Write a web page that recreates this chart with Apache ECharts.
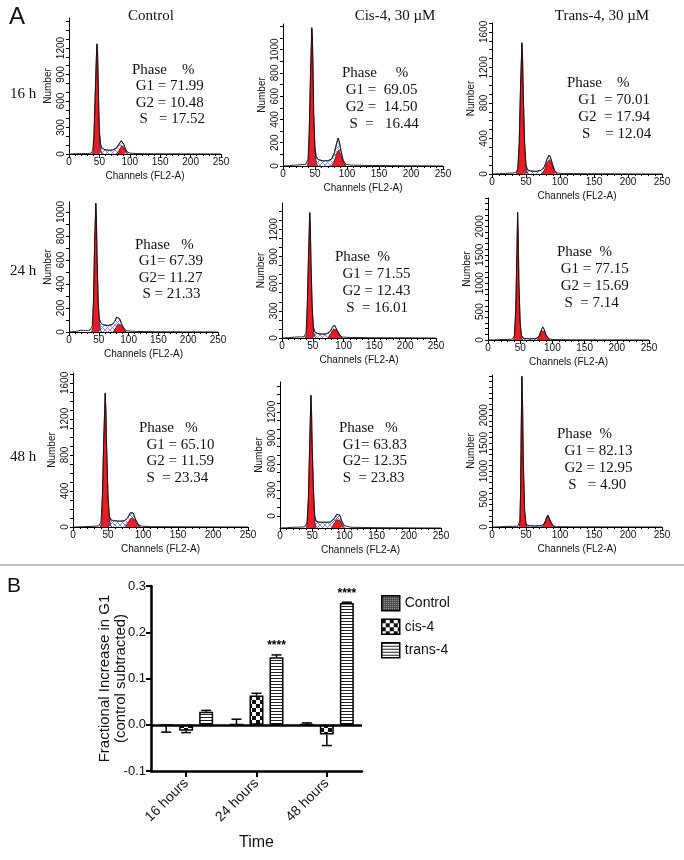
<!DOCTYPE html>
<html><head><meta charset="utf-8">
<script src="https://cdn.jsdelivr.net/npm/echarts@6.0.0/dist/echarts.min.js"></script>
<style>html,body{margin:0;padding:0;background:#fff}#c{width:684px;height:860px}</style>
</head><body><div id="c"></div>
<script>
// ================= PANEL A DATA (channel, count) =================
const channelTicks = [0, 50, 100, 150, 200, 250];
// Control 16 h
const c16Total = [[0,0],[10,2],[20,4],[30,5],[36,8],[39,40],[41,200],[43,650],[45,1100],[46,1250],[47,1150],[48,850],[49,500],[50,250],[52,110],[54,70],[58,50],[65,42],[72,46],[78,70],[82,110],[86,150],[88,150],[90,110],[93,55],[96,25],[100,10],[110,5],[130,3],[160,2],[250,0]];
const c16G1 = [[38,0],[40,30],[41,190],[43,640],[45,1090],[46,1240],[47,1140],[48,840],[49,490],[50,240],[51,100],[53,20],[55,0]];
const c16G2 = [[78,0],[81,20],[84,60],[87,95],[89,90],[92,50],[95,15],[98,0]];
const c16S = [[49,0],[50,250],[52,110],[54,70],[58,50],[65,42],[72,46],[78,70],[82,110],[86,150],[88,150],[90,110],[93,55],[96,0]];
// Cis-4 16 h
const cis16Total = [[0,0],[10,3],[20,8],[30,12],[36,15],[39,60],[41,300],[43,800],[45,1190],[46,1100],[47,800],[48,450],[50,150],[52,80],[55,55],[62,45],[70,45],[76,60],[80,110],[84,200],[86,240],[88,210],[91,120],[94,50],[98,15],[105,8],[130,5],[170,3],[250,0]];
const cis16G1 = [[38,0],[40,50],[41,290],[43,790],[45,1180],[46,1090],[47,790],[48,440],[50,130],[52,30],[54,0]];
const cis16G2 = [[76,0],[80,35],[84,110],[87,138],[90,100],[94,35],[98,0]];
const cis16S = [[48,0],[50,150],[52,80],[55,55],[62,45],[70,45],[76,60],[80,110],[84,200],[86,240],[88,210],[91,120],[94,50],[98,0]];
// Trans-4 16 h
const trans16Total = [[0,0],[10,3],[20,8],[30,10],[35,15],[38,60],[40,350],[42,1000],[44,1480],[45,1300],[46,900],[48,350],[50,100],[52,50],[56,35],[65,30],[72,40],[77,80],[81,170],[84,214],[86,190],[89,110],[92,40],[96,12],[105,5],[140,3],[250,0]];
const trans16G1 = [[36,0],[38,50],[40,340],[42,990],[44,1470],[45,1290],[46,890],[48,340],[50,80],[52,15],[53,0]];
const trans16G2 = [[73,0],[77,40],[81,130],[84,158],[87,130],[90,60],[94,10],[96,0]];
const trans16S = [[48,0],[50,100],[52,50],[56,35],[65,30],[72,40],[77,80],[81,170],[84,214],[86,190],[89,110],[92,40],[96,0]];
// Control 24 h
const c24Total = [[0,0],[12,5],[15,18],[20,15],[28,12],[35,15],[39,50],[41,250],[43,750],[45,1075],[46,950],[47,650],[49,250],[51,110],[53,80],[57,60],[65,55],[72,60],[77,90],[80,125],[82,133],[85,110],[88,70],[92,30],[97,10],[110,5],[150,2],[250,0]];
const c24G1 = [[38,0],[40,40],[41,240],[43,740],[45,1065],[46,940],[47,640],[49,240],[51,80],[53,15],[55,0]];
const c24G2 = [[74,0],[78,30],[82,65],[85,75],[88,55],[92,20],[96,0]];
const c24S = [[49,0],[51,110],[53,80],[57,60],[65,55],[72,60],[77,90],[80,125],[82,133],[85,110],[88,70],[92,30],[96,0]];
// Cis-4 24 h
const cis24Total = [[0,0],[10,3],[20,10],[30,12],[36,14],[39,60],[41,350],[43,900],[45,1387],[46,1250],[47,850],[49,350],[51,120],[53,70],[57,50],[65,44],[72,45],[78,70],[82,120],[85,143],[87,130],[90,80],[94,30],[98,10],[110,6],[150,3],[250,0]];
const cis24G1 = [[38,0],[40,50],[41,340],[43,890],[45,1377],[46,1240],[47,840],[49,340],[51,90],[53,15],[55,0]];
const cis24G2 = [[75,0],[79,40],[83,95],[86,110],[89,85],[93,35],[97,0]];
const cis24S = [[49,0],[51,120],[53,70],[57,50],[65,44],[72,45],[78,70],[82,120],[85,143],[87,130],[90,80],[94,30],[98,0]];
// Trans-4 24 h
const trans24Total = [[0,0],[10,3],[20,8],[30,10],[38,15],[41,80],[43,500],[45,1600],[46,2248],[47,1800],[48,1000],[50,300],[52,80],[55,30],[65,20],[74,25],[79,60],[83,180],[85,230],[87,190],[90,90],[94,25],[100,8],[130,3],[250,0]];
const trans24G1 = [[40,0],[41,70],[43,490],[45,1590],[46,2238],[47,1790],[48,990],[50,280],[52,50],[54,0]];
const trans24G2 = [[76,0],[80,60],[83,160],[85,195],[88,150],[91,60],[95,0]];
const trans24S = [[50,0],[52,80],[55,30],[65,20],[74,25],[79,60],[83,180],[85,230],[87,190],[90,90],[94,25],[96,0]];
// Control 48 h
const c48Total = [[0,0],[10,2],[20,5],[30,8],[37,12],[40,60],[42,350],[44,1000],[46,1489],[47,1300],[48,900],[50,350],[52,120],[54,80],[58,70],[66,65],[73,68],[78,100],[82,160],[84,178],[86,155],[89,90],[93,30],[98,10],[110,4],[160,2],[250,0]];
const c48G1 = [[39,0],[41,50],[42,340],[44,990],[46,1479],[47,1290],[48,890],[50,330],[52,80],[54,15],[56,0]];
const c48G2 = [[75,0],[79,50],[83,100],[85,111],[88,80],[92,25],[96,0]];
const c48S = [[50,0],[52,120],[54,80],[58,70],[66,65],[73,68],[78,100],[82,160],[84,178],[86,155],[89,90],[93,30],[97,0]];
// Cis-4 48 h (read against the printed labels, whose 0 sits above the baseline)
const cis48Total = [[0,-138],[10,-135],[20,-130],[30,-128],[38,-125],[42,-80],[44,200],[46,800],[48,1395],[49,1200],[50,800],[52,300],[54,0],[56,-60],[60,-70],[70,-72],[78,-70],[84,-30],[88,20],[91,35],[93,10],[96,-60],[100,-110],[110,-130],[150,-134],[250,-138]];
const cis48G1 = [[41,-138],[42,-90],[44,190],[46,790],[48,1385],[49,1190],[50,790],[52,280],[54,-60],[56,-138]];
const cis48G2 = [[80,-138],[84,-90],[88,-40],[91,-23],[94,-60],[98,-120],[100,-138]];
const cis48S = [[52,-138],[54,0],[56,-60],[60,-70],[70,-72],[78,-70],[84,-30],[88,20],[91,35],[93,10],[96,-60],[100,-138]];
// Trans-4 48 h
const trans48Total = [[0,0],[10,3],[20,10],[30,12],[38,15],[41,100],[42,600],[43,1800],[44,2700],[45,2200],[46,1200],[48,300],[50,60],[53,25],[62,18],[72,22],[77,60],[80,160],[82,214],[84,180],[87,80],[90,20],[95,6],[120,3],[250,0]];
const trans48G1 = [[40,0],[41,90],[42,590],[43,1790],[44,2690],[45,2190],[46,1190],[48,290],[50,40],[52,0]];
const trans48G2 = [[74,0],[77,50],[80,150],[82,200],[84,170],[87,70],[90,10],[92,0]];
const trans48S = [[49,0],[50,60],[53,25],[62,18],[72,22],[77,60],[80,160],[82,214],[84,180],[87,80],[90,20],[92,0]];

// y-axis tick labels per panel
const c16YTicks = [0,300,600,900,1200];
const cis16YTicks = [0,200,400,600,800,1000];
const trans16YTicks = [0,400,800,1200,1600];
const c24YTicks = [0,200,400,600,800,1000];
const cis24YTicks = [0,300,600,900,1200];
const trans24YTicks = [0,500,1000,1500,2000];
const c48YTicks = [0,400,800,1200,1600];
const cis48YTicks = [0,300,600,900,1200];
const trans48YTicks = [0,500,1000,1500,2000];
// y-axis ranges
const yMins = [0,0,0, 0,0,0, 0,-138,0];
const yMaxs = [1540,1220,1700, 1083,1490,2500, 1710,1545,2720];

const columnTitles = ['Control', 'Cis-4, 30 \u00b5M', 'Trans-4, 30 \u00b5M'];
const rowLabels = ['16 h', '24 h', '48 h'];
const phaseTexts = [
  ['Phase    %', ' G1 = 71.99', ' G2 = 10.48', '  S   = 17.52'],
  ['Phase     %', ' G1 =  69.05', ' G2 =  14.50', '  S  =   16.44'],
  ['Phase    %', '   G1  = 70.01', '   G2  = 17.94', '    S    = 12.04'],
  ['Phase   %', ' G1= 67.39', ' G2= 11.27', '  S = 21.33'],
  ['Phase  %', '  G1 = 71.55', '  G2 = 12.43', '   S  = 16.01'],
  ['Phase  %', ' G1 = 77.15', ' G2 = 15.69', '  S  = 7.14'],
  ['Phase   %', '  G1 = 65.10', '  G2 = 11.59', '  S  = 23.34'],
  ['Phase   %', ' G1= 63.83', ' G2= 12.35', ' S  = 23.83'],
  ['Phase  %', '  G1 = 82.13', '  G2 = 12.95', '   S   = 4.90']
];

// ================= PANEL B DATA =================
const timeCats = ['16 hours', '24 hours', '48 hours'];
const seriesNames = ['Control', 'cis-4', 'trans-4'];
const controlMean = [-0.001, 0.001, 0.001];
const controlErr = [0.015, 0.011, 0.003];
const cisMean = [-0.013, 0.063, -0.021];
const cisErr = [0.004, 0.005, 0.024];
const transMean = [0.028, 0.146, 0.263];
const transErr = [0.003, 0.005, 0.002];
const sigMarks = ['', '****', '****'];

// ================= BUILD =================
const panelData = [
  [c16Total,c16G1,c16G2,c16S,c16YTicks],
  [cis16Total,cis16G1,cis16G2,cis16S,cis16YTicks],
  [trans16Total,trans16G1,trans16G2,trans16S,trans16YTicks],
  [c24Total,c24G1,c24G2,c24S,c24YTicks],
  [cis24Total,cis24G1,cis24G2,cis24S,cis24YTicks],
  [trans24Total,trans24G1,trans24G2,trans24S,trans24YTicks],
  [c48Total,c48G1,c48G2,c48S,c48YTicks],
  [cis48Total,cis48G1,cis48G2,cis48S,cis48YTicks],
  [trans48Total,trans48G1,trans48G2,trans48S,trans48YTicks]
];
const boxes = [
  {left:69, top:18, width:152, height:136},
  {left:283, top:24, width:160, height:142},
  {left:492, top:23, width:170, height:151},
  {left:69, top:202, width:149, height:130},
  {left:282, top:203, width:154, height:135},
  {left:488, top:198, width:161, height:142},
  {left:73, top:373, width:175, height:154},
  {left:280, top:382, width:161, height:146},
  {left:492, top:375, width:170, height:152}
];
const phasePos = [
  [132,70,16.5],[342,73,17],[567,83,17],
  [135,245,16.5],[335,257,17],[557,252,17],
  [139,428,16.7],[339,428,16.7],[557,434,17]
];

function makePattern(w, h, draw) {
  const c = document.createElement('canvas');
  c.width = w; c.height = h;
  const ctx = c.getContext('2d');
  draw(ctx);
  return {image: c, repeat: 'repeat'};
}
const hatch = makePattern(5, 5, ctx => {
  ctx.fillStyle = '#fff'; ctx.fillRect(0,0,5,5);
  ctx.strokeStyle = '#6a80c8'; ctx.lineWidth = 0.8;
  ctx.beginPath(); ctx.moveTo(0,5); ctx.lineTo(5,0); ctx.stroke();
  ctx.beginPath(); ctx.moveTo(0,0); ctx.lineTo(5,5); ctx.stroke();
});
const patControl = makePattern(2, 2, ctx => {
  ctx.fillStyle = '#3a3a3a'; ctx.fillRect(0,0,2,2);
  ctx.fillStyle = '#d0d0d0'; ctx.fillRect(0,0,1,1);
});
const patCis = makePattern(8, 8, ctx => {
  ctx.fillStyle = '#fff'; ctx.fillRect(0,0,8,8);
  ctx.fillStyle = '#111'; ctx.fillRect(0,0,4,4); ctx.fillRect(4,4,4,4);
});
const patTrans = makePattern(4, 3, ctx => {
  ctx.fillStyle = '#fff'; ctx.fillRect(0,0,4,3);
  ctx.fillStyle = '#222'; ctx.fillRect(0,0,4,1);
});

const SERIF = '"Liberation Serif", "Times New Roman", serif';
const SANS = '"Liberation Sans", Arial, sans-serif';
const NARROW = '"Liberation Sans Narrow", "Arial Narrow", "Liberation Sans", sans-serif';
const RED = '#ec1c24';

const grids = [], xAxes = [], yAxes = [], series = [], graphics = [];

panelData.forEach((pd, i) => {
  const [total, g1, g2, s, yt] = pd;
  grids.push(Object.assign({outerBoundsMode: 'none', containLabel: false}, boxes[i]));
  xAxes.push({
    type: 'value', gridIndex: i, min: 0, max: 250, interval: 50,
    name: 'Channels (FL2-A)', nameLocation: 'middle', nameGap: 17,
    nameTextStyle: {fontFamily: SANS, fontSize: 10, color: '#111'},
    axisLine: {show: true, onZero: false, lineStyle: {color: '#000', width: 1}},
    axisTick: {show: true, length: 4, lineStyle: {color: '#000'}},
    minorTick: {show: true, splitNumber: 5, length: 2, lineStyle: {color: '#000'}},
    axisLabel: {fontFamily: SANS, fontSize: 10, color: '#111', margin: 3,
      customValues: channelTicks, formatter: v => String(v)},
    splitLine: {show: false}
  });
  const minors = [];
  for (let v = 0; v <= yMaxs[i]; v += 100) minors.push(v);
  yAxes.push({
    type: 'value', gridIndex: i, min: yMins[i], max: yMaxs[i], position: 'left',
    name: 'Number', nameLocation: 'middle', nameRotate: 90, nameGap: 16,
    nameTextStyle: {fontFamily: SANS, fontSize: 10, color: '#111'},
    axisLine: {show: true, onZero: false, lineStyle: {color: '#000', width: 1}},
    axisTick: {show: true, length: 3, customValues: minors, lineStyle: {color: '#000'}},
    axisLabel: {fontFamily: SANS, fontSize: 10, color: '#111', rotate: 90, margin: 3,
      customValues: yt, formatter: v => String(v)},
    splitLine: {show: false}
  });
  const base = {type: 'line', xAxisIndex: i, yAxisIndex: i, symbol: 'none', showSymbol: false, silent: true};
  series.push(Object.assign({}, base, {data: s,
    lineStyle: {color: '#3050b0', width: 0.8},
    areaStyle: {color: hatch, origin: 'start', opacity: 1}}));
  series.push(Object.assign({}, base, {data: g1,
    lineStyle: {color: '#6a0808', width: 0.8},
    areaStyle: {color: RED, origin: 'start', opacity: 1}}));
  series.push(Object.assign({}, base, {data: g2,
    lineStyle: {color: '#6a0808', width: 0.8},
    areaStyle: {color: RED, origin: 'start', opacity: 1}}));
  series.push(Object.assign({}, base, {data: total,
    lineStyle: {color: '#111', width: 0.9}}));

  const [px, py, lh] = phasePos[i];
  graphics.push({type: 'text', x: px, y: py - lh / 2,
    style: {text: phaseTexts[i].join('\n'), font: '15px ' + SERIF, fill: '#111',
      lineHeight: lh, textAlign: 'left', textVerticalAlign: 'top'}});
});

// column titles, row labels, panel letters, separator
const titleX = [151, 395, 602];
columnTitles.forEach((t, k) => graphics.push({type: 'text', x: titleX[k], y: 16,
  style: {text: t, font: '15px ' + SERIF, fill: '#111', textAlign: 'center', textVerticalAlign: 'middle'}}));
const rowY = [94, 271, 457];
rowLabels.forEach((t, k) => graphics.push({type: 'text', x: 10, y: rowY[k],
  style: {text: t, font: '15px ' + SERIF, fill: '#111', textAlign: 'left', textVerticalAlign: 'middle'}}));
graphics.push({type: 'text', x: 9, y: 17, style: {text: 'A', font: '24px ' + SANS, fill: '#111', textVerticalAlign: 'middle'}});
graphics.push({type: 'text', x: 7, y: 586, style: {text: 'B', font: '21px ' + SANS, fill: '#111', textVerticalAlign: 'middle'}});
graphics.push({type: 'line', shape: {x1: 0, y1: 565, x2: 684, y2: 565}, style: {stroke: '#a9b0b3', lineWidth: 1.5}});

// ---------- Panel B ----------
const bi = panelData.length;
grids.push({left: 151, top: 586, width: 211, height: 185, outerBoundsMode: 'none', containLabel: false});
xAxes.push({
  type: 'category', gridIndex: bi, data: timeCats,
  name: 'Time', nameLocation: 'middle', nameGap: 64, nameMoveOverlap: false,
  nameTextStyle: {fontFamily: NARROW, fontSize: 16, color: '#111'},
  axisLine: {show: true, onZero: false, lineStyle: {color: '#000', width: 2.5}},
  axisTick: {show: true, alignWithLabel: true, length: 6, lineStyle: {color: '#000', width: 2}},
  axisLabel: {rotate: 45, fontFamily: NARROW, fontSize: 14, color: '#111', margin: 10},
  splitLine: {show: false}
});
yAxes.push({
  type: 'value', gridIndex: bi, min: -0.1, max: 0.3, interval: 0.1, position: 'left',
  name: 'Fractional Increase in G1\n(control subtracted)', nameLocation: 'middle', nameRotate: 90,
  nameGap: 22, nameMoveOverlap: false,
  nameTextStyle: {fontFamily: NARROW, fontSize: 15, color: '#111', lineHeight: 16},
  axisLine: {show: true, onZero: false, lineStyle: {color: '#000', width: 2.5}},
  axisTick: {show: true, length: 5, lineStyle: {color: '#000', width: 2}},
  axisLabel: {fontFamily: NARROW, fontSize: 13, color: '#111', margin: 5,
    formatter: v => v.toFixed(1)},
  splitLine: {show: false}
});
const BAR_W = 14, BAR_GAP = 6;
const means = [controlMean, cisMean, transMean];
const errs = [controlErr, cisErr, transErr];
const pats = [patControl, patCis, patTrans];
seriesNames.forEach((nm, k) => {
  const s = {
    name: nm, type: 'bar', xAxisIndex: bi, yAxisIndex: bi, data: means[k],
    barWidth: BAR_W, barGap: (BAR_GAP / BAR_W * 100) + '%',
    itemStyle: {color: pats[k], borderColor: '#000', borderWidth: 1.5},
    z: 3
  };
  if (k === 0) {
    s.markLine = {silent: true, symbol: 'none', label: {show: false},
      lineStyle: {color: '#000', width: 2.5, type: 'solid'},
      data: [{yAxis: 0}]};
  }
  series.push(s);
});
seriesNames.forEach((nm, k) => {
  series.push({
    type: 'custom', xAxisIndex: bi, yAxisIndex: bi, z: 4, silent: true,
    data: means[k].map((m, j) => [j, m, errs[k][j]]),
    renderItem: (params, api) => {
      const cat = api.value(0), m = api.value(1), e = api.value(2);
      const dir = m < 0 ? -1 : 1;
      const p0 = api.coord([cat, m]);
      const p1 = api.coord([cat, m + dir * e]);
      const x = p0[0] + (k - 1) * (BAR_W + BAR_GAP);
      const ch = [
        {type: 'line', shape: {x1: x, y1: p0[1], x2: x, y2: p1[1]}, style: {stroke: '#000', lineWidth: 1.5}},
        {type: 'line', shape: {x1: x - 5, y1: p1[1], x2: x + 5, y2: p1[1]}, style: {stroke: '#000', lineWidth: 1.5}}
      ];
      const sig = k === 2 ? sigMarks[params.dataIndex] : '';
      if (sig) ch.push({type: 'text', x: x, y: p1[1] - 3,
        style: {text: sig, font: 'bold 12px ' + SANS, fill: '#000', textAlign: 'center', textVerticalAlign: 'bottom'}});
      return {type: 'group', children: ch};
    }
  });
});

const chart = echarts.init(document.getElementById('c'), null, {renderer: 'canvas'});
chart.setOption({
  animation: false,
  backgroundColor: '#fff',
  grid: grids, xAxis: xAxes, yAxis: yAxes, series: series,
  legend: {
    data: seriesNames, orient: 'vertical', left: 376, top: 590,
    itemWidth: 18, itemHeight: 15, itemGap: 7, icon: 'rect',
    itemStyle: {borderColor: '#000', borderWidth: 1.5},
    textStyle: {fontFamily: NARROW, fontSize: 14, color: '#111'}
  },
  graphic: graphics
});
</script></body></html>
